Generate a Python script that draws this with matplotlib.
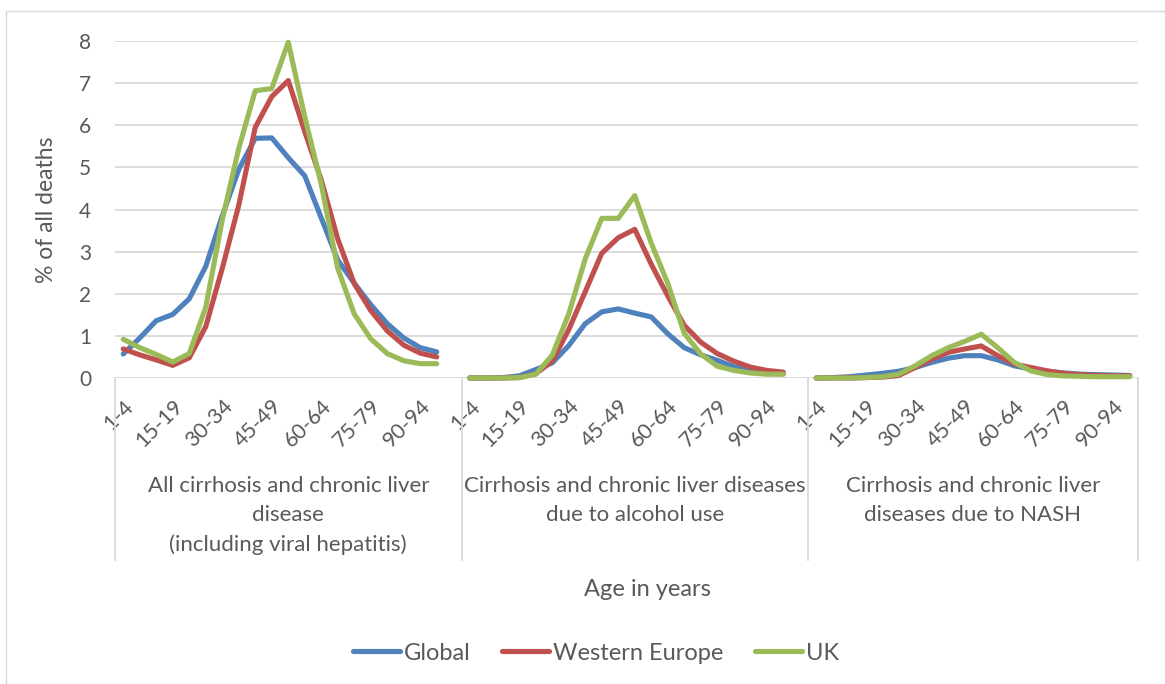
import numpy as np
import matplotlib.pyplot as plt
import matplotlib.transforms as mtransforms
from matplotlib.patches import Rectangle

plt.rcParams['font.family'] = ['Lato', 'DejaVu Sans']

ages = ['1-4', '5-9', '10-14', '15-19', '20-24', '25-29', '30-34', '35-39', '40-44', '45-49',
        '50-54', '55-59', '60-64', '65-69', '70-74', '75-79', '80-84', '85-89', '90-94', '95+']
groups = ['All cirrhosis and chronic liver\ndisease\n(including viral hepatitis)',
          'Cirrhosis and chronic liver diseases\ndue to alcohol use',
          'Cirrhosis and chronic liver\ndiseases due to NASH']

# all cirrhosis
global_all = [0.57, 0.95, 1.36, 1.51, 1.88, 2.65, 3.85, 4.95, 5.69, 5.70, 5.23, 4.80, 3.80, 2.80, 2.25, 1.74, 1.29, 0.95, 0.72, 0.62]
weu_all = [0.69, 0.55, 0.43, 0.30, 0.48, 1.22, 2.60, 4.10, 5.95, 6.68, 7.06, 5.85, 4.70, 3.30, 2.24, 1.60, 1.12, 0.78, 0.59, 0.50]
uk_all = [0.92, 0.72, 0.56, 0.38, 0.58, 1.68, 3.75, 5.45, 6.82, 6.87, 7.97, 6.20, 4.60, 2.60, 1.52, 0.93, 0.58, 0.41, 0.34, 0.34]
# alcohol
global_alc = [0, 0, 0.01, 0.05, 0.20, 0.36, 0.77, 1.29, 1.57, 1.64, 1.54, 1.45, 1.05, 0.72, 0.55, 0.42, 0.27, 0.17, 0.12, 0.10]
weu_alc = [0, 0, 0, 0.01, 0.10, 0.40, 1.15, 2.05, 2.96, 3.33, 3.53, 2.70, 1.95, 1.25, 0.85, 0.58, 0.40, 0.26, 0.18, 0.14]
uk_alc = [0, 0, 0, 0.01, 0.09, 0.54, 1.52, 2.83, 3.79, 3.79, 4.33, 3.20, 2.25, 1.06, 0.57, 0.28, 0.18, 0.12, 0.09, 0.09]
# NASH
global_nash = [0, 0.01, 0.03, 0.07, 0.11, 0.16, 0.25, 0.37, 0.47, 0.53, 0.53, 0.43, 0.29, 0.21, 0.16, 0.12, 0.09, 0.08, 0.07, 0.06]
weu_nash = [0, 0, 0, 0.01, 0.02, 0.06, 0.25, 0.45, 0.61, 0.69, 0.76, 0.53, 0.33, 0.25, 0.17, 0.11, 0.08, 0.06, 0.05, 0.05]
uk_nash = [0, 0, 0, 0.01, 0.03, 0.09, 0.29, 0.53, 0.72, 0.87, 1.04, 0.72, 0.37, 0.17, 0.08, 0.05, 0.04, 0.03, 0.03, 0.03]

series = [('Global', '#4F81BD', [global_all, global_alc, global_nash]),
          ('Western Europe', '#C0504D', [weu_all, weu_alc, weu_nash]),
          ('UK', '#9BBB59', [uk_all, uk_alc, uk_nash])]

txt = '#595959'
grid = '#d9d9d9'
W, H = 1165, 684

fig = plt.figure(figsize=(W / 100, H / 100), dpi=100)
fig.patches.append(Rectangle((6 / W, -0.1), 1.2, 1 - 11 / H + 0.1, transform=fig.transFigure,
                             fill=False, edgecolor=grid, lw=1))
ax = fig.add_axes([115 / W, 1 - 378 / H, 1023 / W, 337 / H])

# slots: 21 per group (the last one blank), last group 20
starts = [0, 21, 42]
for name, col, vals in series:
    for g in range(3):
        x = np.arange(len(vals[g])) + starts[g]
        ax.plot(x, vals[g], color=col, lw=3.7, solid_capstyle='round', solid_joinstyle='round',
                label=name if g == 0 else None, clip_on=False, zorder=3)

ax.set_xlim(-0.5, 61.5)
ax.set_ylim(0, 8)
ax.set_yticks(range(9))
ax.yaxis.grid(True, color=grid, lw=1.3)
ax.set_axisbelow(True)
for s in ax.spines.values():
    s.set_visible(False)

ticks = list(range(0, 61, 3))
ax.set_xticks(ticks)
ax.set_xticklabels([ages[t - starts[t // 21]] for t in ticks])
plt.setp(ax.get_xticklabels(), rotation=45, ha='right', rotation_mode='anchor')
ax.tick_params(axis='x', length=0, pad=13, labelsize=15.5, labelcolor=txt)
ax.tick_params(axis='y', length=0, pad=17, labelsize=15, labelcolor=txt)

ax.set_ylabel('% of all deaths', fontsize=16.5, color=txt)
ax.yaxis.set_label_coords(-0.057, 0.5)

# group dividers
tr = mtransforms.blended_transform_factory(ax.transData, ax.transAxes)
for xd in [-0.5, 20.5, 41.5, 61.5]:
    ax.plot([xd, xd], [0, -182 / 337], color=grid, lw=1.3, transform=tr, clip_on=False)

centers = [10, 31, 51.5]
for c, lab in zip(centers, groups):
    ax.annotate(lab, xy=(c, H - 476), xycoords=('data', 'figure pixels'), ha='center', va='top',
                fontsize=16, color=txt, linespacing=1.55)

fig.text(647 / W, 1 - 590 / H, 'Age in years', ha='center', va='center', fontsize=17, color=txt)

fig.legend(loc='center', bbox_to_anchor=(596 / W, 1 - 653 / H), ncol=3, frameon=False,
           fontsize=17, labelcolor=txt, handlelength=2.0, handletextpad=0.15, columnspacing=1.35)

fig.savefig('out.png', dpi=100)
